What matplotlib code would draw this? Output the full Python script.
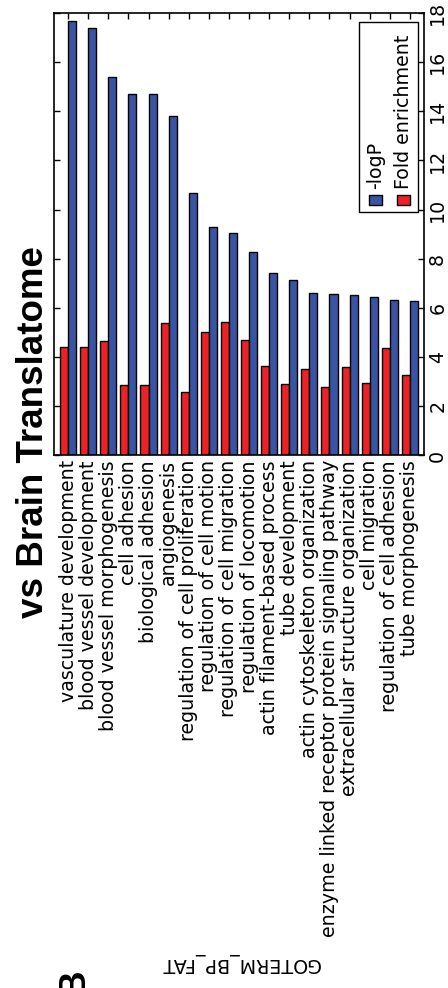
import matplotlib.pyplot as plt
from matplotlib.patches import Rectangle
import numpy as np

terms = ['vasculature development', 'blood vessel development',
         'blood vessel morphogenesis', 'cell adhesion', 'biological adhesion',
         'angiogenesis', 'regulation of cell proliferation',
         'regulation of cell motion', 'regulation of cell migration',
         'regulation of locomotion', 'actin filament-based process',
         'tube development', 'actin cytoskeleton organization',
         'enzyme linked receptor protein signaling pathway',
         'extracellular structure organization', 'cell migration',
         'regulation of cell adhesion', 'tube morphogenesis']
logp = [17.68, 17.38, 15.41, 14.70, 14.70, 13.79, 10.67, 9.30, 9.06,
        8.26, 7.42, 7.15, 6.62, 6.58, 6.51, 6.45, 6.31, 6.30]
fold = [4.43, 4.43, 4.66, 2.86, 2.86, 5.40, 2.58, 5.04, 5.44,
        4.69, 3.64, 2.90, 3.53, 2.77, 3.60, 2.94, 4.39, 3.29]
value_ticks = [0, 2, 4, 6, 8, 10, 12, 14, 16, 18]

blue = '#3a54a4'
red = '#ec2227'
fs = 13.7

W, H = 448, 988
fig = plt.figure(figsize=(W / 100, H / 100), dpi=100)
ax = fig.add_axes([54 / W, 1 - 455.5 / H, 370 / W, 442.5 / H])

ind = np.arange(len(terms))
width = 0.4
ax.bar(ind, fold, width, align='edge', color=red, edgecolor='black', linewidth=1)
ax.bar(ind + width, logp, width, align='edge', color=blue, edgecolor='black', linewidth=1)

ax.set_xlim(-0.3, len(terms) + 0.1)
ax.set_ylim(0, 18)
ax.set_xticks(ind + width)
ax.set_xticklabels(terms, rotation=90, fontsize=fs)
ax.set_yticks(value_ticks)
ax.set_yticklabels([str(v) for v in value_ticks], fontsize=fs)

ax.tick_params(direction='in', length=4, width=1, top=True, bottom=True,
               left=True, right=True)
ax.tick_params(axis='x', pad=3.3)
ax.tick_params(axis='y', labelleft=False, labelright=True, pad=3)
plt.setp(ax.get_yticklabels(), rotation=90, va='center')
for s in ax.spines.values():
    s.set_linewidth(1.2)

# legend box, drawn sideways like the rest of the figure
ax.add_patch(Rectangle((0.823, 0.5503), 0.1608, 0.4294, transform=ax.transAxes,
                       facecolor='white', edgecolor='black', lw=1, zorder=5))
ax.add_patch(Rectangle((0.850, 0.5661), 0.0378, 0.0226, transform=ax.transAxes,
                       facecolor=blue, edgecolor='black', lw=1, zorder=6))
ax.add_patch(Rectangle((0.9257, 0.5661), 0.0378, 0.0226, transform=ax.transAxes,
                       facecolor=red, edgecolor='black', lw=1, zorder=6))
ax.text(0.8689, 0.6023, '-logP', rotation=90, rotation_mode='anchor',
        ha='left', va='center', fontsize=fs, transform=ax.transAxes, zorder=7)
ax.text(0.9446, 0.6023, 'Fold enrichment', rotation=90, rotation_mode='anchor',
        ha='left', va='center', fontsize=fs, transform=ax.transAxes, zorder=7)

fig.text(43 / W, 1 - 432.5 / H, 'vs Brain Translatome', rotation=90,
         rotation_mode='anchor', ha='center', va='baseline', fontsize=26.5,
         fontweight='bold', family='Liberation Sans')
fig.text(83 / W, 1 - 995 / H, 'B', rotation=90, rotation_mode='anchor',
         ha='left', va='baseline', fontsize=26.5, fontweight='bold',
         family='Liberation Sans')
fig.text(240 / W, 1 - 957.7 / H, 'GOTERM_BP_FAT', rotation=180,
         rotation_mode='anchor', ha='center', va='baseline', fontsize=fs)

fig.savefig('out.png', dpi=100)
